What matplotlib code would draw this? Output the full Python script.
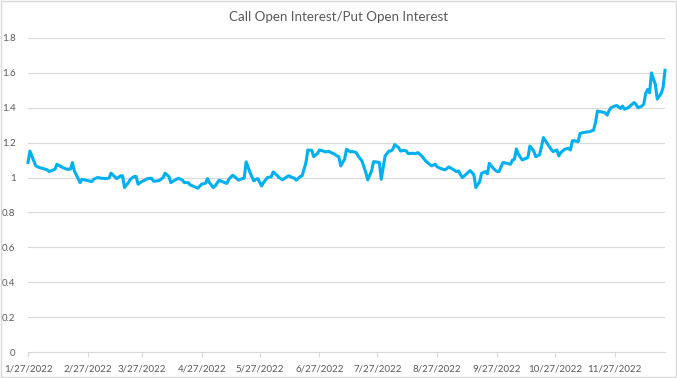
import matplotlib
matplotlib.use("Agg")
import matplotlib.pyplot as plt
import numpy as np
import pandas as pd
from matplotlib.patches import Rectangle

# one line per month
dates = [
    "01-27", "01-28", "01-31",
    "02-02", "02-04", "02-06", "02-07", "02-10", "02-11", "02-14", "02-16", "02-18", "02-19", "02-20", "02-23", "02-24", "02-26",
    "03-01", "03-02", "03-04", "03-06", "03-09", "03-10", "03-11", "03-14", "03-16", "03-17", "03-18", "03-20", "03-21", "03-23", "03-24", "03-25", "03-27", "03-30",
    "04-01", "04-02", "04-04", "04-05", "04-07", "04-08", "04-10", "04-11", "04-13", "04-15", "04-17", "04-18", "04-20", "04-21", "04-23", "04-25", "04-27", "04-29", "04-30",
    "05-01", "05-03", "05-04", "05-06", "05-08", "05-10", "05-11", "05-13", "05-14", "05-16", "05-18", "05-19", "05-20", "05-22", "05-24", "05-25", "05-26", "05-28", "05-29", "05-31",
    "06-02", "06-03", "06-05", "06-06", "06-08", "06-09", "06-11", "06-13", "06-14", "06-15", "06-17", "06-18", "06-20", "06-21", "06-23", "06-24", "06-26", "06-27", "06-29", "06-30",
    "07-02", "07-03", "07-05", "07-06", "07-07", "07-08", "07-10", "07-11", "07-13", "07-14", "07-16", "07-17", "07-19", "07-21", "07-22", "07-24", "07-25", "07-26", "07-28", "07-29", "07-30", "07-31",
    "08-02", "08-03", "08-04", "08-05", "08-07", "08-08", "08-10", "08-11", "08-12", "08-14", "08-16", "08-17", "08-19", "08-21", "08-23", "08-24", "08-26", "08-27", "08-29", "08-31",
    "09-02", "09-04", "09-06", "09-07", "09-09", "09-11", "09-13", "09-14", "09-15", "09-16", "09-18", "09-19", "09-21", "09-22", "09-23", "09-25", "09-27", "09-28", "09-30",
    "10-02", "10-04", "10-05", "10-06", "10-07", "10-08", "10-10", "10-12", "10-13", "10-14", "10-16", "10-17", "10-19", "10-20", "10-21", "10-23", "10-25", "10-26", "10-28", "10-29", "10-30",
    "11-01", "11-03", "11-04", "11-05", "11-06", "11-08", "11-09", "11-11", "11-14", "11-16", "11-17", "11-18", "11-20", "11-22", "11-23", "11-24", "11-25", "11-27", "11-28", "11-30",
    "12-01", "12-02", "12-04", "12-05", "12-07", "12-08", "12-09", "12-11", "12-12", "12-13", "12-14", "12-15", "12-16", "12-18", "12-19", "12-21", "12-22", "12-23",
]
ratio = [
    1.086, 1.152, 1.067,
    1.057, 1.051, 1.044, 1.034, 1.048, 1.076, 1.057, 1.048, 1.048, 1.086, 1.038, 0.971, 0.990, 0.985,
    0.977, 0.990, 1.000, 0.996, 0.994, 0.998, 1.025, 0.994, 1.010, 1.010, 0.943, 0.971, 0.990, 1.006, 1.006, 0.962, 0.977, 0.994,
    0.996, 0.979, 0.981, 0.983, 1.000, 1.025, 1.006, 0.971, 0.985, 0.996, 0.985, 0.971, 0.971, 0.958, 0.949, 0.939, 0.962, 0.968, 0.994,
    0.971, 0.943, 0.952, 0.985, 0.975, 0.966, 0.990, 1.013, 1.006, 0.985, 0.994, 0.996, 1.090, 1.029, 0.981, 0.990, 0.994, 0.952, 0.971, 1.000,
    1.004, 1.032, 1.013, 1.000, 0.987, 0.996, 1.010, 1.000, 0.996, 0.985, 1.006, 1.010, 1.086, 1.158, 1.156, 1.120, 1.139, 1.158, 1.152, 1.147,
    1.150, 1.143, 1.133, 1.124, 1.120, 1.067, 1.105, 1.162, 1.147, 1.150, 1.143, 1.124, 1.095, 1.029, 0.987, 1.038, 1.091, 1.090, 1.086, 0.990, 1.057, 1.124,
    1.152, 1.152, 1.162, 1.189, 1.171, 1.152, 1.156, 1.152, 1.137, 1.139, 1.137, 1.143, 1.124, 1.095, 1.076, 1.067, 1.076, 1.061, 1.051, 1.044,
    1.061, 1.048, 1.034, 1.038, 1.000, 1.019, 1.040, 1.029, 1.015, 0.943, 0.977, 1.025, 1.034, 1.021, 1.082, 1.053, 1.034, 1.034, 1.086,
    1.082, 1.076, 1.101, 1.105, 1.164, 1.135, 1.101, 1.110, 1.116, 1.181, 1.152, 1.120, 1.130, 1.177, 1.229, 1.196, 1.162, 1.149, 1.158, 1.124, 1.143,
    1.162, 1.168, 1.158, 1.211, 1.211, 1.206, 1.253, 1.259, 1.263, 1.272, 1.316, 1.381, 1.377, 1.371, 1.358, 1.383, 1.400, 1.410, 1.413, 1.396,
    1.410, 1.392, 1.400, 1.411, 1.430, 1.419, 1.400, 1.410, 1.421, 1.482, 1.505, 1.486, 1.600, 1.533, 1.450, 1.482, 1.516, 1.615,
]
tick_labels = ["1/27/2022", "2/27/2022", "3/27/2022", "4/27/2022", "5/27/2022", "6/27/2022",
               "7/27/2022", "8/27/2022", "9/27/2022", "10/27/2022", "11/27/2022"]
y_ticks = [0, 0.2, 0.4, 0.6, 0.8, 1, 1.2, 1.4, 1.6, 1.8]

plt.rcParams["font.family"] = ["Lato", "DejaVu Sans"]
text_grey = "#595959"
line_grey = "#D9D9D9"

dt = pd.to_datetime(["2022-" + d for d in dates])
ticks = pd.to_datetime(tick_labels, format="%m/%d/%Y")

fig = plt.figure(figsize=(6.77, 3.78), dpi=100)
ax = fig.add_axes([28 / 677, 1 - 352 / 378, (665 - 28) / 677, (352 - 38) / 378])

ax.plot(dt, ratio, color="#00B0F0", lw=2.2, solid_joinstyle="round", clip_on=False, zorder=3)

ax.set_ylim(0, 1.8)
ax.set_yticks(y_ticks)
ax.set_yticklabels([f"{v:g}" for v in y_ticks])
ax.set_xlim(dt[0], pd.Timestamp("2022-12-23"))
ax.set_xticks(ticks)
ax.set_xticklabels(tick_labels)

ax.yaxis.grid(True, color=line_grey, lw=0.8)
ax.set_axisbelow(True)
for s in ["top", "right", "left"]:
    ax.spines[s].set_visible(False)
ax.spines["bottom"].set_color(line_grey)
ax.spines["bottom"].set_linewidth(0.8)

ax.tick_params(axis="y", length=0, pad=9, labelsize=7, labelcolor=text_grey)
ax.tick_params(axis="x", length=3.5, width=0.8, color=line_grey, pad=5.5, labelsize=7, labelcolor=text_grey)

fig.text(0.5, 1 - 17 / 378, "Call Open Interest/Put Open Interest", ha="center", va="center",
         fontsize=9.6, color=text_grey)

fig.patches.append(Rectangle((0.001, 0.002), 0.998, 0.996, transform=fig.transFigure,
                             fill=False, edgecolor=line_grey, lw=1))

fig.savefig("out.png", dpi=100)
